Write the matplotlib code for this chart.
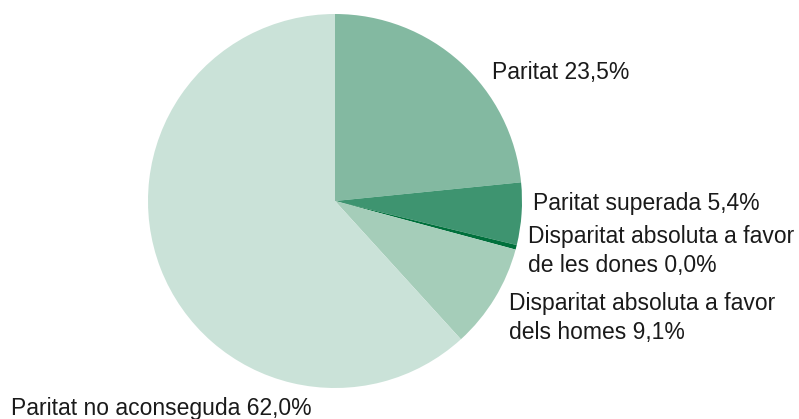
import matplotlib
matplotlib.use("Agg")
import matplotlib.pyplot as plt

categories = ["Paritat", "Paritat superada", "Disparitat absoluta a favor\nde les dones",
              "Disparitat absoluta a favor\ndels homes", "Paritat no aconseguda"]
values = [23.5, 5.4, 0.4, 9.1, 62.0]          # drawn slice sizes
shown_pct = ["23,5%", "5,4%", "0,0%", "9,1%", "62,0%"]  # printed labels
colors = ["#83b9a1", "#3e9470", "#00703c", "#a5cdb9", "#cae2d8"]

W, H = 799, 419
cx, cy, R = 335, 201, 187

fig = plt.figure(figsize=(W / 100, H / 100), dpi=100)
ax = fig.add_axes([0, 0, 1, 1])

ax.pie(values, colors=colors, startangle=90, counterclock=False, radius=1.0,
       center=(0, 0), wedgeprops=dict(linewidth=0), frame=True)
ax.set_xlim(-cx / R, (W - cx) / R)
ax.set_ylim(-(H - cy) / R, cy / R)
ax.set_aspect("auto")
ax.axis("off")

def px(x, y):
    return ((x - cx) / R, (cy - y) / R)

# left x, first-line baseline y (pixels), line step
label_pos = [(492, 79), (533, 210), (528, 243), (509, 310), (11, 415)]
line_step = 29
for cat, pct, (x, y) in zip(categories, shown_pct, label_pos):
    lines = f"{cat} {pct}".split("\n")
    for i, line in enumerate(lines):
        tx, ty = px(x, y + i * line_step)
        ax.text(tx, ty, line, ha="left", va="baseline", fontsize=16.5,
                family="Liberation Sans", color="#1a1a1a")

fig.savefig("out.png", dpi=100)
